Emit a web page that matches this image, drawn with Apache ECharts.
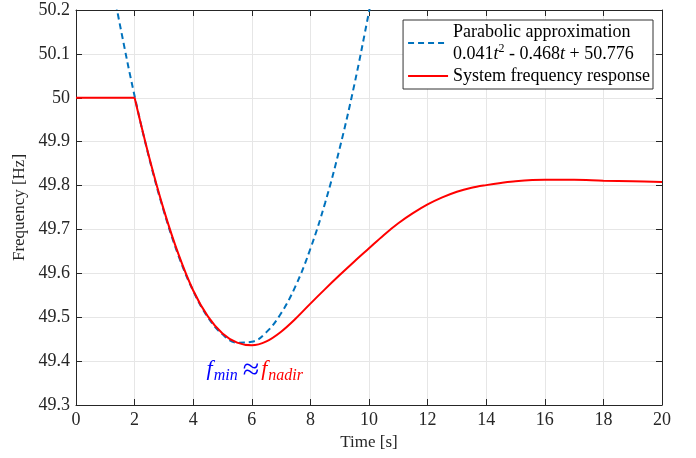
<!DOCTYPE html>
<html>
<head>
<meta charset="utf-8">
<script src="https://cdn.jsdelivr.net/npm/echarts@6/dist/echarts.min.js"></script>
<style>
html,body{margin:0;padding:0;background:#fff;}
#c{width:696px;height:458px;}
</style>
</head>
<body>
<div id="c"></div>
<script>
// Parabolic approximation (dashed blue)
const timeParab = [1.3, 1.5, 2, 2.5, 3, 3.5, 4, 4.5, 5, 5.5, 6, 6.5, 7, 7.5, 8, 8.5, 9, 9.5, 10, 10.1];
const freqParab = [50.237, 50.166, 50.004, 49.862, 49.741, 49.640, 49.560, 49.500, 49.461, 49.442, 49.444, 49.466, 49.509, 49.572, 49.656, 49.760, 49.885, 50.030, 50.196, 50.232];

// System frequency response (solid red): flat before the event, then the response
const timeSysFlat = [0, 2];
const freqSysFlat = [50, 50];
const timeSys = [2, 2.5, 3, 3.5, 4, 4.5, 5, 5.5, 6, 6.5, 7, 7.5, 8, 8.5, 9, 9.5, 10, 10.5, 11, 11.5, 12, 12.5, 13, 13.5, 14, 14.5, 15, 16, 17, 18, 19, 20];
const freqSys = [50, 49.864, 49.744, 49.643, 49.561, 49.502, 49.463, 49.442, 49.436, 49.445, 49.467, 49.497, 49.531, 49.564, 49.596, 49.627, 49.657, 49.687, 49.714, 49.737, 49.757, 49.773, 49.786, 49.795, 49.801, 49.806, 49.810, 49.813, 49.813, 49.811, 49.810, 49.808];

const xTicks = [0, 2, 4, 6, 8, 10, 12, 14, 16, 18, 20];
const yTicks = [49.3, 49.4, 49.5, 49.6, 49.7, 49.8, 49.9, 50, 50.1, 50.2];

const seriesNames = ['Parabolic approximation', 'System frequency response'];
const annotation = { t: 6.1, f: 49.378 };

const FONT = '"Liberation Serif", "Times New Roman", serif';
const AX = '#262626';

const chart = echarts.init(document.getElementById('c'), null, { renderer: 'canvas' });

const zip = (a, b) => a.map((v, i) => [v, b[i]]);

const option = {
  backgroundColor: '#fff',
  animation: false,
  grid: { left: 76, right: 34, top: 10, bottom: 53, containLabel: false },
  xAxis: [{
    type: 'value', min: 0, max: 20, interval: 2,
    name: 'Time [s]', nameLocation: 'middle', nameGap: 27,
    nameTextStyle: { fontFamily: FONT, fontSize: 17, color: AX },
    axisLine: { show: true, onZero: false, lineStyle: { color: AX, width: 1 } },
    axisTick: { show: true, inside: true, length: 6, lineStyle: { color: AX } },
    axisLabel: { fontFamily: FONT, fontSize: 18, color: AX, margin: 6 },
    splitLine: { show: true, lineStyle: { color: '#e6e6e6', width: 1 } }
  }, {
    type: 'value', min: 0, max: 20, interval: 2, position: 'top',
    axisLine: { show: true, onZero: false, lineStyle: { color: AX, width: 1 } },
    axisTick: { show: true, inside: true, length: 6, lineStyle: { color: AX } },
    axisLabel: { show: false }, splitLine: { show: false }
  }],
  yAxis: [{
    type: 'value', min: 49.3, max: 50.2, interval: 0.1,
    name: 'Frequency [Hz]', nameLocation: 'middle', nameGap: 48,
    nameTextStyle: { fontFamily: FONT, fontSize: 17, color: AX },
    axisLine: { show: true, onZero: false, lineStyle: { color: AX, width: 1 } },
    axisTick: { show: true, inside: true, length: 6, lineStyle: { color: AX } },
    axisLabel: { fontFamily: FONT, fontSize: 18, color: AX, margin: 6,
      formatter: v => String(Math.round(v * 10) / 10) },
    splitLine: { show: true, lineStyle: { color: '#e6e6e6', width: 1 } }
  }, {
    type: 'value', min: 49.3, max: 50.2, interval: 0.1, position: 'right',
    axisLine: { show: true, onZero: false, lineStyle: { color: AX, width: 1 } },
    axisTick: { show: true, inside: true, length: 6, lineStyle: { color: AX } },
    axisLabel: { show: false }, splitLine: { show: false }
  }],
  legend: {
    orient: 'vertical', right: 43, top: 20,
    padding: [1, 3, 2, 4], itemGap: 0, itemWidth: 40, itemHeight: 14,
    backgroundColor: '#fff', borderColor: '#333', borderWidth: 1, borderRadius: 0,
    itemStyle: { opacity: 0 },
    data: seriesNames,
    textStyle: {
      fontFamily: FONT, fontSize: 18, color: '#000', lineHeight: 22,
      rich: {
        a: { fontFamily: FONT, fontSize: 18, color: '#000', lineHeight: 22 },
        i: { fontFamily: FONT, fontSize: 18, fontStyle: 'italic', color: '#000', lineHeight: 22 },
        s: { fontFamily: FONT, fontSize: 12, color: '#000', lineHeight: 22, verticalAlign: 'top', padding: [0, 0, 8, 0] }
      }
    },
    formatter: function (name) {
      if (name === seriesNames[0]) {
        return '{a|Parabolic approximation}\n{a|0.041}{i|t}{s|2}{a| - 0.468}{i|t}{a| + 50.776}';
      }
      return '{a|' + name + '}';
    }
  },
  series: [{
    name: seriesNames[0], type: 'line', xAxisIndex: 0, yAxisIndex: 0,
    data: zip(timeParab, freqParab), smooth: 0.4, symbol: 'none', clip: true,
    lineStyle: { color: '#0072BD', width: 2, type: [6, 4] },
    itemStyle: { color: '#0072BD' }, z: 3
  }, {
    name: seriesNames[1], type: 'line', xAxisIndex: 0, yAxisIndex: 0,
    data: zip(timeSys, freqSys), smooth: 0.35, symbol: 'none', clip: true,
    lineStyle: { color: '#FF0000', width: 2 },
    itemStyle: { color: '#FF0000' }, z: 4
  }, {
    name: seriesNames[1], type: 'line', xAxisIndex: 0, yAxisIndex: 0,
    data: zip(timeSysFlat, freqSysFlat), smooth: false, symbol: 'none', clip: true,
    lineStyle: { color: '#FF0000', width: 2 },
    itemStyle: { color: '#FF0000' }, z: 4
  }]
};

chart.setOption(option);

const p = chart.convertToPixel({ xAxisIndex: 0, yAxisIndex: 0 }, [annotation.t, annotation.f]);
chart.setOption({
  graphic: [{
    type: 'text', x: p[0], y: p[1], z: 10,
    style: {
      text: '{fb|f}{sb|min}{ap|≈}{fr|f}{sr|nadir}',
      align: 'center', verticalAlign: 'middle',
      rich: {
        fb: { fontFamily: FONT, fontStyle: 'italic', fontSize: 22, fill: '#0000FF', lineHeight: 26, verticalAlign: 'top' },
        sb: { fontFamily: FONT, fontStyle: 'italic', fontSize: 16, fill: '#0000FF', lineHeight: 26, verticalAlign: 'bottom', padding: [10, 0, 0, 1] },
        ap: { fontFamily: FONT, fontSize: 30, fill: '#0000FF', lineHeight: 26, padding: [0, 2, 0, 5] },
        fr: { fontFamily: FONT, fontStyle: 'italic', fontSize: 22, fill: '#FF0000', lineHeight: 26, verticalAlign: 'top' },
        sr: { fontFamily: FONT, fontStyle: 'italic', fontSize: 16, fill: '#FF0000', lineHeight: 26, verticalAlign: 'bottom', padding: [10, 0, 0, 1] }
      }
    }
  }]
});
</script>
</body>
</html>
